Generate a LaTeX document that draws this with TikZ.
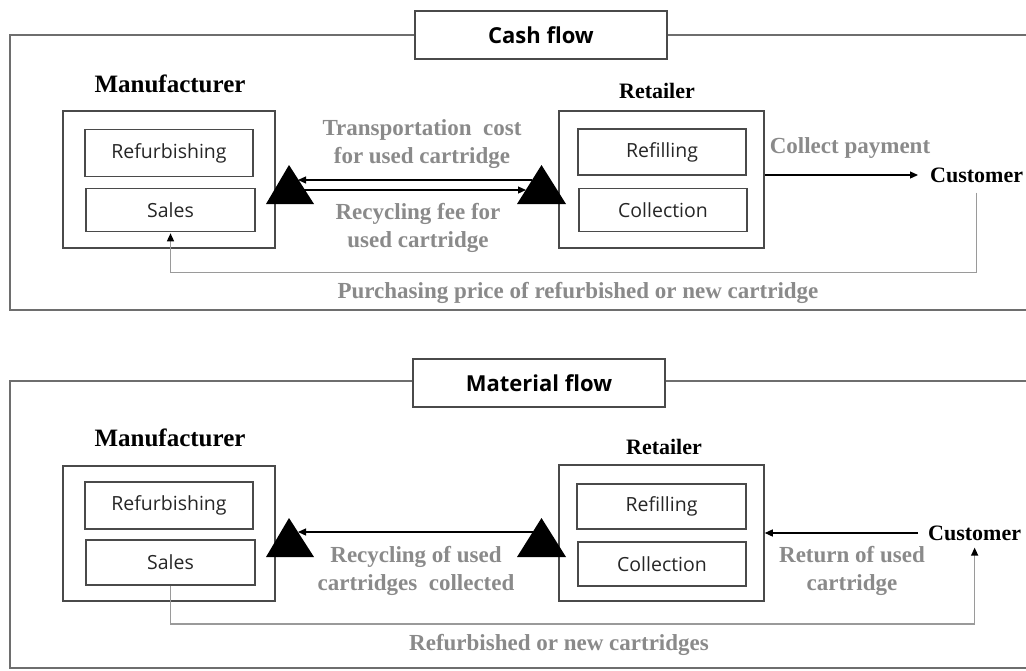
\documentclass[tikz,border=0pt]{standalone}
\usepackage{fontspec}
\setmainfont{Liberation Serif}
\newfontfamily\boxfont{Open Sans}
\usetikzlibrary{arrows.meta,calc}
\definecolor{framegray}{HTML}{6E6E6E}
\definecolor{labelgray}{HTML}{8A8A8A}
\definecolor{linegray}{HTML}{9A9A9A}
\definecolor{boxline}{HTML}{4A4A4A}
\begin{document}
\begin{tikzpicture}[x=1pt,y=-1pt,
  frame/.style={draw=framegray,line width=2pt},
  holder/.style={draw=boxline,line width=1.5pt,inner sep=0pt},
  sub/.style={draw=boxline,line width=1.6pt,inner sep=0pt,text=black!85,
    font=\boxfont\fontsize{19.5}{21}\selectfont},
  titlebox/.style={draw=boxline,line width=1.5pt,fill=white,inner sep=0pt,
    minimum width=252pt,minimum height=48pt,
    font=\boxfont\bfseries\fontsize{22}{24}\selectfont},
  actor/.style={inner sep=0pt,font=\bfseries\fontsize{22}{24}\selectfont},
  bigactor/.style={inner sep=0pt,font=\bfseries\fontsize{25}{27}\selectfont},
  glabel/.style={inner sep=0pt,text=labelgray,align=center,
    font=\bfseries\fontsize{23}{28}\selectfont},
  arr/.style={-{Triangle[length=8pt,width=7pt]},line width=1.2pt},
  garr/.style={draw=linegray,line width=1.4pt},
  gtip/.style={draw=linegray,line width=1.4pt,
    -{Triangle[length=8pt,width=7pt,fill=black,color=black]}}
]
\useasboundingbox (0,0) rectangle (1026,670);
\clip (0,0) rectangle (1026,670);

% ================= Cash flow =================
\draw[frame] (1040,35) -- (10,35) -- (10,310) -- (1040,310);
\node[titlebox] (cashtitle) at (541,35) {Cash flow};

\node[bigactor] (cman) at (170,84) {Manufacturer};
\node[holder,minimum width=212pt,minimum height=137pt] (cmbox) at (169,179.5) {};
\node[sub,minimum width=168pt,minimum height=47pt] (crefurb) at (169,153) {Refurbishing};
\node[sub,minimum width=169pt,minimum height=43pt] (csales) at (170.5,210) {Sales};

\node[actor] (cret) at (657,91) {Retailer};
\node[holder,minimum width=205pt,minimum height=137pt] (crbox) at (661.5,179.5) {};
\node[sub,minimum width=168pt,minimum height=46pt] (crefill) at (662,152) {Refilling};
\node[sub,minimum width=168pt,minimum height=43pt] (ccoll) at (663,210) {Collection};

\fill (289,165) -- (266,204) -- (314,204) -- cycle;
\fill (541.5,165) -- (517,204) -- (566,204) -- cycle;
\coordinate (cmtu) at (298,180);
\coordinate (cmtl) at (304,190);
\coordinate (crtu) at (532,180);
\coordinate (crtl) at (526,190);

\node[actor,anchor=west] (ccust) at (930,175) {Customer};

\draw[arr] (crtu) -- (cmtu);
\draw[arr] (cmtl) -- (crtl);
\draw[arr] (ccust -| crbox.east) -- ([xshift=-12pt]ccust.west);
\draw[garr] ([yshift=-10pt]ccust.south) -- ++(0,80) -| ([yshift=-12pt]csales.south);
\draw[gtip] ([yshift=-12pt]csales.south) -- ([yshift=-1pt]csales.south);

\node[glabel] (ltrans) at (422,144) {Transportation\ \ cost\\for used cartridge};
\node[glabel] (lfee) at (418,228) {Recycling fee for\\used cartridge};
\node[glabel] (lcollect) at (850,148) {Collect payment};
\node[glabel] (lpurch) at (578,293) {Purchasing price of refurbished or new cartridge};

% ================= Material flow =================
\draw[frame] (1040,381) -- (10,381) -- (10,668) -- (1040,668);
\node[titlebox] (mattitle) at (539,383) {Material flow};

\node[bigactor] (mman) at (170,438) {Manufacturer};
\node[holder,minimum width=212pt,minimum height=135pt] (mmbox) at (169,533.5) {};
\node[sub,minimum width=168pt,minimum height=47pt] (mrefurb) at (169,505.5) {Refurbishing};
\node[sub,minimum width=169pt,minimum height=45pt] (msales) at (170.5,562.5) {Sales};

\node[actor] (mret) at (664,447) {Retailer};
\node[holder,minimum width=205pt,minimum height=136pt] (mrbox) at (661.5,533) {};
\node[sub,minimum width=169pt,minimum height=45pt] (mrefill) at (661.5,506.5) {Refilling};
\node[sub,minimum width=168pt,minimum height=44pt] (mcoll) at (662,564) {Collection};

\fill (289,518) -- (266,557) -- (314,557) -- cycle;
\fill (541.5,518) -- (517,557) -- (566,557) -- cycle;
\coordinate (mmt) at (298,532);
\coordinate (mrt) at (533,532);

\node[actor,anchor=west] (mcust) at (928,533) {Customer};

\draw[arr] (mrt) -- (mmt);
\draw[arr] ([xshift=-10pt]mcust.west) -- (mcust -| mrbox.east);
\draw[garr] (msales.south) -- ++(0,38) -| ([yshift=-24pt]mcust.south);
\draw[gtip] ([yshift=-24pt]mcust.south) -- ([yshift=-7pt]mcust.south);

\node[glabel] (lrecyc) at (416,571) {Recycling of used\\cartridges\ \ collected};
\node[glabel] (lreturn) at (852,571) {Return of used\\cartridge};
\node[glabel] (lrefurb) at (559,645) {Refurbished or new cartridges};
\end{tikzpicture}
\end{document}
